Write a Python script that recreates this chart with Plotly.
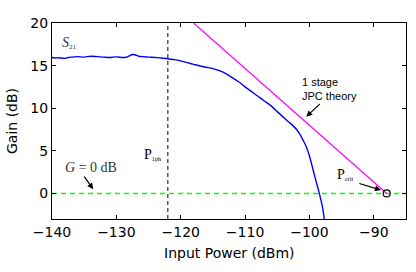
import plotly.graph_objects as go

# S21 measured gain vs input power
power_dbm = [-140, -139.5, -139, -138, -137.5, -137, -136, -135, -134, -133, -132, -131, -130.5,
             -130, -129, -128.5, -128, -127.5, -127, -126.5, -126, -125, -124, -123, -122, -121,
             -120, -119, -118, -117, -116, -115, -114, -113, -112, -111, -110, -109, -108, -107,
             -106, -105, -104, -103, -102, -101.5, -101, -100.5, -100, -99.5, -99, -98.5, -98, -97.7]
gain_db = [15.95, 15.9, 15.92, 15.85, 15.95, 16.0, 16.05, 16.0, 16.1, 16.05, 16.0, 15.95, 16.0,
           16.02, 15.95, 15.98, 16.15, 16.3, 16.25, 16.1, 16.05, 16.0, 15.95, 15.9, 15.8, 15.7,
           15.55, 15.35, 15.15, 14.95, 14.8, 14.65, 14.4, 14.05, 13.6, 13.1, 12.5, 11.95, 11.4, 10.85,
           10.3, 9.6, 8.9, 8.25, 7.5, 6.95, 6.25, 5.5, 4.4, 2.95, 1.5, 0.1, -1.5, -3.0]

# 1 stage JPC theory line
theory_x = [-118, -88]
theory_y = [20, 0]

# critical point, 1-photon power, unity gain
pcrit_x = [-88]
pcrit_y = [0]
p1ph = -122
unity_gain = 0

x_ticks = [-140, -130, -120, -110, -100, -90]
y_ticks = [0, 5, 10, 15, 20]

serif = "Liberation Serif"
sans = "DejaVu Sans"
small_sans = "Liberation Sans"

fig = go.Figure()
fig.add_trace(go.Scatter(x=[-140, -85], y=[unity_gain, unity_gain], mode="lines",
                         line=dict(color="#00ff00", width=1.6, dash="5px,4px"), showlegend=False))
fig.add_trace(go.Scatter(x=[p1ph, p1ph], y=[-3, 20], mode="lines",
                         line=dict(color="black", width=1, dash="4px,3px"), showlegend=False))
fig.add_trace(go.Scatter(x=power_dbm, y=gain_db, mode="lines", line_shape="spline",
                         line=dict(color="#0000ff", width=1.4, smoothing=0.6), showlegend=False))
fig.add_trace(go.Scatter(x=theory_x, y=theory_y, mode="lines",
                         line=dict(color="#ff00ff", width=1.2), showlegend=False))
fig.add_trace(go.Scatter(x=pcrit_x, y=pcrit_y, mode="markers",
                         marker=dict(symbol="circle-open", size=7, color="black",
                                     line=dict(width=1.2, color="black")),
                         showlegend=False))

ann = []
ann.append(dict(x=-138.7, y=17.6, xref="x", yref="y", xanchor="left", yanchor="middle",
                text="<i>S</i><span style='font-size:10px'><sub>21</sub></span>", showarrow=False,
                font=dict(family=serif, size=14, color="#333")))
ann.append(dict(x=-126.0, y=4.6, xref="x", yref="y", xanchor="left", yanchor="middle",
                text="P<span style='font-size:9px'><sub>1ph</sub></span>", showarrow=False,
                font=dict(family=serif, size=14, color="black")))
ann.append(dict(x=-138.3, y=3.1, xref="x", yref="y", xanchor="left", yanchor="middle",
                text="<i>G</i> = 0 dB", showarrow=False,
                font=dict(family=serif, size=14, color="#333")))
ann.append(dict(x=-133.6, y=0.5, xref="x", yref="y", ax=-10, ay=-14, text="",
                showarrow=True, arrowhead=2, arrowsize=1, arrowwidth=1.2, arrowcolor="black"))
ann.append(dict(x=-101.4, y=12.2, xref="x", yref="y", xanchor="left", yanchor="middle",
                text="1 stage<br>JPC theory", align="left", showarrow=False,
                font=dict(family=small_sans, size=11, color="black")))
ann.append(dict(x=-100.5, y=9.0, xref="x", yref="y", ax=15, ay=-14, text="",
                showarrow=True, arrowhead=2, arrowsize=1, arrowwidth=1.2, arrowcolor="black"))
ann.append(dict(x=-96.1, y=2.2, xref="x", yref="y", xanchor="left", yanchor="middle",
                text="P<span style='font-size:9px'><sub>crit</sub></span>", showarrow=False,
                font=dict(family=serif, size=14, color="black")))
ann.append(dict(x=-88.9, y=0.4, xref="x", yref="y", ax=-23, ay=-7, text="",
                showarrow=True, arrowhead=2, arrowsize=1, arrowwidth=1.2, arrowcolor="black"))
# axis titles
ann.append(dict(x=0.5, y=-0.174, xref="paper", yref="paper", xanchor="center", yanchor="middle",
                text="Input Power (dBm)", showarrow=False, font=dict(family=sans, size=14, color="black")))
ann.append(dict(x=-0.113, y=0.5, xref="paper", yref="paper", xanchor="center", yanchor="middle",
                text="Gain (dB)", textangle=-90, showarrow=False,
                font=dict(family=sans, size=14, color="black")))

fig.update_layout(
    width=416, height=272,
    margin=dict(l=52, r=10, t=23, b=53),
    paper_bgcolor="white", plot_bgcolor="white",
    font=dict(family=sans, size=14, color="black"),
    annotations=ann,
    xaxis=dict(range=[-140, -85], tickvals=x_ticks,
               ticktext=[str(v).replace("-", "\u2212") for v in x_ticks],
               ticks="inside", ticklen=4, tickcolor="black", showline=True, linecolor="black",
               linewidth=1, mirror="ticks", showgrid=False, zeroline=False, automargin=False,
               tickfont=dict(family=sans, size=14)),
    yaxis=dict(range=[-3, 20], tickvals=y_ticks, ticks="inside", ticklen=4, tickcolor="black",
               showline=True, linecolor="black", linewidth=1, mirror="ticks", showgrid=False,
               zeroline=False, automargin=False, tickfont=dict(family=sans, size=14)),
)

fig.write_html("out.html", config={"displayModeBar": False},
               post_script="document.body.style.margin='0';")
